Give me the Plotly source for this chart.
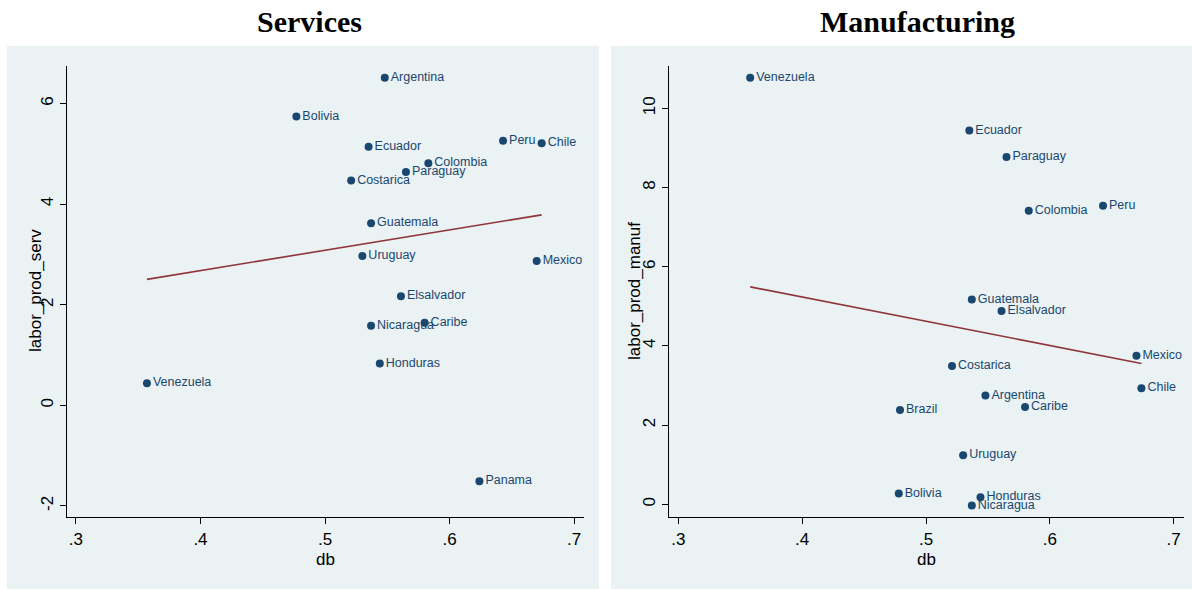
import numpy as np
import plotly.graph_objects as go

# ---- Services panel data ----
serv_country = ["Argentina", "Bolivia", "Ecuador", "Peru", "Chile", "Colombia",
                "Paraguay", "Costarica", "Guatemala", "Uruguay", "Mexico",
                "Elsalvador", "Nicaragua", "Caribe", "Honduras", "Venezuela", "Panama"]
serv_db = [0.548, 0.477, 0.535, 0.643, 0.674, 0.583,
           0.565, 0.521, 0.537, 0.530, 0.670,
           0.561, 0.537, 0.580, 0.544, 0.357, 0.624]
serv_prod = [6.51, 5.74, 5.14, 5.26, 5.21, 4.81,
             4.64, 4.47, 3.62, 2.97, 2.87,
             2.17, 1.58, 1.64, 0.83, 0.44, -1.51]

# ---- Manufacturing panel data ----
manuf_country = ["Venezuela", "Ecuador", "Paraguay", "Colombia", "Peru", "Guatemala",
                 "Elsalvador", "Mexico", "Costarica", "Chile", "Argentina", "Caribe",
                 "Brazil", "Uruguay", "Bolivia", "Honduras", "Nicaragua"]
manuf_db = [0.358, 0.535, 0.565, 0.583, 0.643, 0.537,
            0.561, 0.670, 0.521, 0.674, 0.548, 0.580,
            0.479, 0.530, 0.478, 0.544, 0.537]
manuf_prod = [10.77, 9.44, 8.77, 7.41, 7.54, 5.17,
              4.88, 3.75, 3.49, 2.93, 2.75, 2.46,
              2.38, 1.24, 0.27, 0.18, -0.03]

x_ticks = [0.3, 0.4, 0.5, 0.6, 0.7]
x_ticktext = [".3", ".4", ".5", ".6", ".7"]
serv_yticks = [-2, 0, 2, 4, 6]
manuf_yticks = [0, 2, 4, 6, 8, 10]

W, H = 1192, 590
NAVY = "#1A476F"
MAROON = "#90353B"
PANEL = "#EAF2F3"


def px_x(p):
    return p / W


def px_y(p):
    return 1 - p / H


def linear_fit(x, y):
    x = np.asarray(x)
    slope, intercept = np.polyfit(x, np.asarray(y), 1)
    xs = np.array([x.min(), x.max()])
    return xs, slope * xs + intercept


fig = go.Figure()

label_font = dict(family="Liberation Sans Narrow, Arial Narrow, Liberation Sans, Arial",
                  size=12.5, color=NAVY)

for idx, (cx, cy, names) in enumerate([(serv_db, serv_prod, serv_country),
                                        (manuf_db, manuf_prod, manuf_country)]):
    xa = "x" if idx == 0 else "x2"
    ya = "y" if idx == 0 else "y2"
    fig.add_trace(go.Scatter(
        x=cx, y=cy, text=names, mode="markers+text", textposition="middle right",
        marker=dict(color=NAVY, size=8), textfont=label_font,
        xaxis=xa, yaxis=ya, showlegend=False, cliponaxis=False))
    fx, fy = linear_fit(cx, cy)
    fig.add_trace(go.Scatter(
        x=fx, y=fy, mode="lines", line=dict(color=MAROON, width=1.6),
        xaxis=xa, yaxis=ya, showlegend=False))

tick_font = dict(family="Liberation Sans, Arial", size=17, color="#000000")

x_common = dict(range=[0.2924, 0.708], tickvals=x_ticks, ticktext=x_ticktext,
                showline=True, linecolor="#000000", linewidth=1,
                ticks="outside", ticklen=6, tickcolor="#000000", tickwidth=1,
                showgrid=False, zeroline=False, tickfont=tick_font)
y_common = dict(showline=True, linecolor="#000000", linewidth=1,
                ticks="outside", ticklen=6, tickcolor="#000000", tickwidth=1,
                showgrid=True, gridcolor=PANEL, gridwidth=2, zeroline=False,
                tickfont=tick_font, tickangle=-90)

y_dom = [px_y(517.3), px_y(65.5)]

fig.update_layout(
    width=W, height=H, margin=dict(l=0, r=0, t=0, b=0),
    paper_bgcolor="white", plot_bgcolor="white",
    xaxis=dict(x_common, domain=[px_x(66.5), px_x(584)], anchor="y"),
    yaxis=dict(y_common, domain=y_dom, anchor="x", range=[-2.227, 6.756],
               tickvals=serv_yticks, ticktext=[str(v) for v in serv_yticks]),
    xaxis2=dict(x_common, domain=[px_x(669), px_x(1183.5)], anchor="y2"),
    yaxis2=dict(y_common, domain=y_dom, anchor="x2", range=[-0.328, 11.08],
                tickvals=manuf_yticks, ticktext=[str(v) for v in manuf_yticks]),
)

# panel backgrounds
for x0, x1 in [(7, 599), (611, 1192)]:
    fig.add_shape(type="rect", xref="paper", yref="paper",
                  x0=px_x(x0), x1=px_x(x1), y0=px_y(589), y1=px_y(46),
                  fillcolor=PANEL, line=dict(width=0), layer="below")

title_font = dict(family="Liberation Serif, Times New Roman", size=30, color="#000000")
axis_title_font = dict(family="Liberation Sans, Arial", size=17, color="#000000")

annotations = [
    dict(text="<b>Services</b>", x=px_x(309.5), y=px_y(22), font=title_font),
    dict(text="<b>Manufacturing</b>", x=px_x(917.5), y=px_y(22), font=title_font),
    dict(text="db", x=px_x(325), y=px_y(559), font=axis_title_font),
    dict(text="db", x=px_x(926), y=px_y(559), font=axis_title_font),
    dict(text="labor_prod_serv", x=px_x(35), y=px_y(291), font=axis_title_font, textangle=-90),
    dict(text="labor_prod_manuf", x=px_x(634), y=px_y(291), font=axis_title_font, textangle=-90),
]
for a in annotations:
    fig.add_annotation(xref="paper", yref="paper", showarrow=False,
                       xanchor="center", yanchor="middle", **a)

fig.write_html("out.html")
